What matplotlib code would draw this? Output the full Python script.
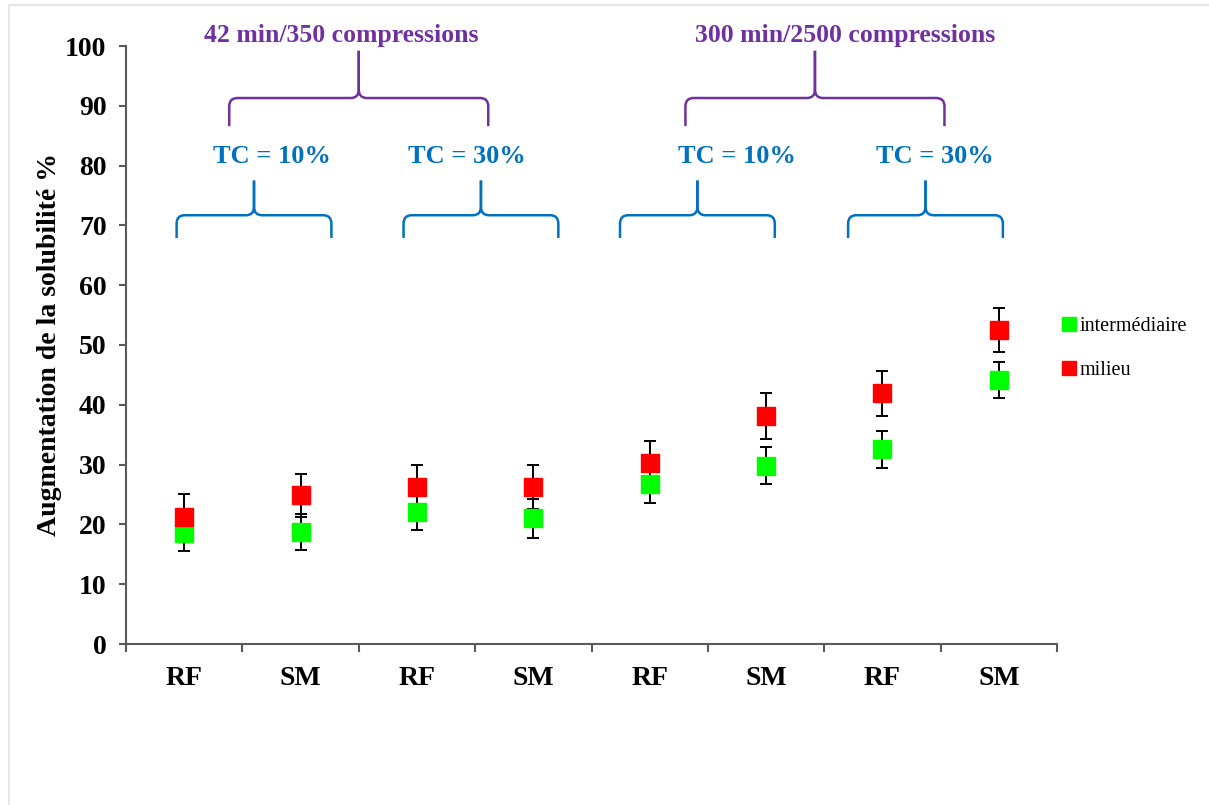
import numpy as np
import matplotlib.pyplot as plt
from matplotlib.path import Path
from matplotlib.patches import PathPatch, Rectangle

plt.rcParams['font.family'] = ['Liberation Serif', 'DejaVu Serif']

# data
categories = ['RF', 'SM', 'RF', 'SM', 'RF', 'SM', 'RF', 'SM']
inter = [18.6, 18.8, 22.1, 21.0, 26.7, 29.8, 32.6, 44.1]
inter_err = [3.1, 3.0, 3.0, 3.2, 3.1, 3.1, 3.1, 3.0]
milieu = [21.3, 24.9, 26.2, 26.3, 30.3, 38.1, 41.9, 52.5]
milieu_err = [3.8, 3.6, 3.8, 3.7, 3.6, 3.8, 3.7, 3.7]

tc_labels = ['TC = 10%', 'TC = 30%', 'TC = 10%', 'TC = 30%']
time_labels = ['42 min/350 compressions', '300 min/2500 compressions']

GREEN = '#00FF00'
RED = '#FF0000'
BLUE = '#0070C0'
PURPLE = '#7030A0'
AXC = '#595959'

x = np.arange(len(categories))

fig = plt.figure(figsize=(12.09, 8.05), dpi=100)
ax = fig.add_axes([126/1209, 161/805, 931/1209, 598/805])

ax.errorbar(x, inter, yerr=inter_err, fmt='none', ecolor='black',
            elinewidth=1.4, capsize=4, capthick=1.4, zorder=2)
ax.errorbar(x, milieu, yerr=milieu_err, fmt='none', ecolor='black',
            elinewidth=1.4, capsize=4, capthick=1.4, zorder=2)
l1, = ax.plot(x, inter, 's', color=GREEN, ms=13, ls='none', zorder=3, label='intermédiaire')
l2, = ax.plot(x, milieu, 's', color=RED, ms=13, ls='none', zorder=4, label='milieu')

ax.set_xlim(-0.5, 7.5)
ax.set_ylim(0, 100)
ax.set_yticks(np.arange(0, 101, 10))
ax.set_xticks(x)
ax.set_xticklabels(categories)
ax.set_xticks(np.arange(-0.5, 8, 1), minor=True)
ax.tick_params(axis='x', which='major', length=0, pad=16, labelsize=20)
ax.tick_params(axis='x', which='minor', length=6, width=1.5, color=AXC, direction='out')
ax.tick_params(axis='y', length=5, width=1.5, color=AXC, direction='out', pad=9, labelsize=20)
for lab in ax.get_xticklabels() + ax.get_yticklabels():
    lab.set_fontweight('bold')

for s in ['top', 'right']:
    ax.spines[s].set_visible(False)
for s in ['left', 'bottom']:
    ax.spines[s].set_color(AXC)
    ax.spines[s].set_linewidth(1.5)

ax.set_ylabel('Augmentation de la solubilité %', fontsize=20, fontweight='bold', labelpad=2)


def brace(xl, xr, xm, yh, yend, ytip, color, rx=0.07, ry=1.4):
    for xe, sgn in [(xl, 1), (xr, -1)]:
        verts = [(xe, yend), (xe, yh - ry), (xe, yh), (xe + sgn*rx, yh),
                 (xm - sgn*rx, yh), (xm, yh), (xm, yh + ry), (xm, ytip)]
        codes = [Path.MOVETO, Path.LINETO, Path.CURVE3, Path.CURVE3,
                 Path.LINETO, Path.CURVE3, Path.CURVE3, Path.LINETO]
        ax.add_patch(PathPatch(Path(verts, codes), fill=False, ec=color,
                               lw=1.8, clip_on=False, capstyle='butt'))


# TC braces (blue)
tc_mid = [0.60, 2.55, 4.41, 6.37]
tc_text_x = [0.75, 2.43, 4.75, 6.45]
for m, tx, lab in zip(tc_mid, tc_text_x, tc_labels):
    brace(m - 0.665, m + 0.665, m, 71.7, 67.9, 77.5, BLUE)
    ax.text(tx, 81.6, lab, color=BLUE, fontsize=19, fontweight='bold',
            ha='center', va='center')

# time braces (purple)
t_mid = [1.50, 5.42]
t_text_x = [1.35, 5.68]
for m, tx, lab in zip(t_mid, t_text_x, time_labels):
    brace(m - 1.113, m + 1.113, m, 91.3, 86.6, 99.2, PURPLE)
    ax.text(tx, 101.8, lab, color=PURPLE, fontsize=18.5, fontweight='bold',
            ha='center', va='center', clip_on=False)

fig.legend(handles=[l1, l2], loc='upper left',
           bbox_to_anchor=(1061/1209, (805-317)/805), frameon=False,
           fontsize=14.5, markerscale=0.75, handlelength=0.75, handletextpad=0.15,
           labelspacing=1.25, borderpad=0, borderaxespad=0)

fig.add_artist(Rectangle((9/1209, -0.05), 1.2, (800/805) + 0.05,
                         transform=fig.transFigure, fill=False, ec='#e6e6e6', lw=1.5))

fig.savefig('out.png', dpi=100)
